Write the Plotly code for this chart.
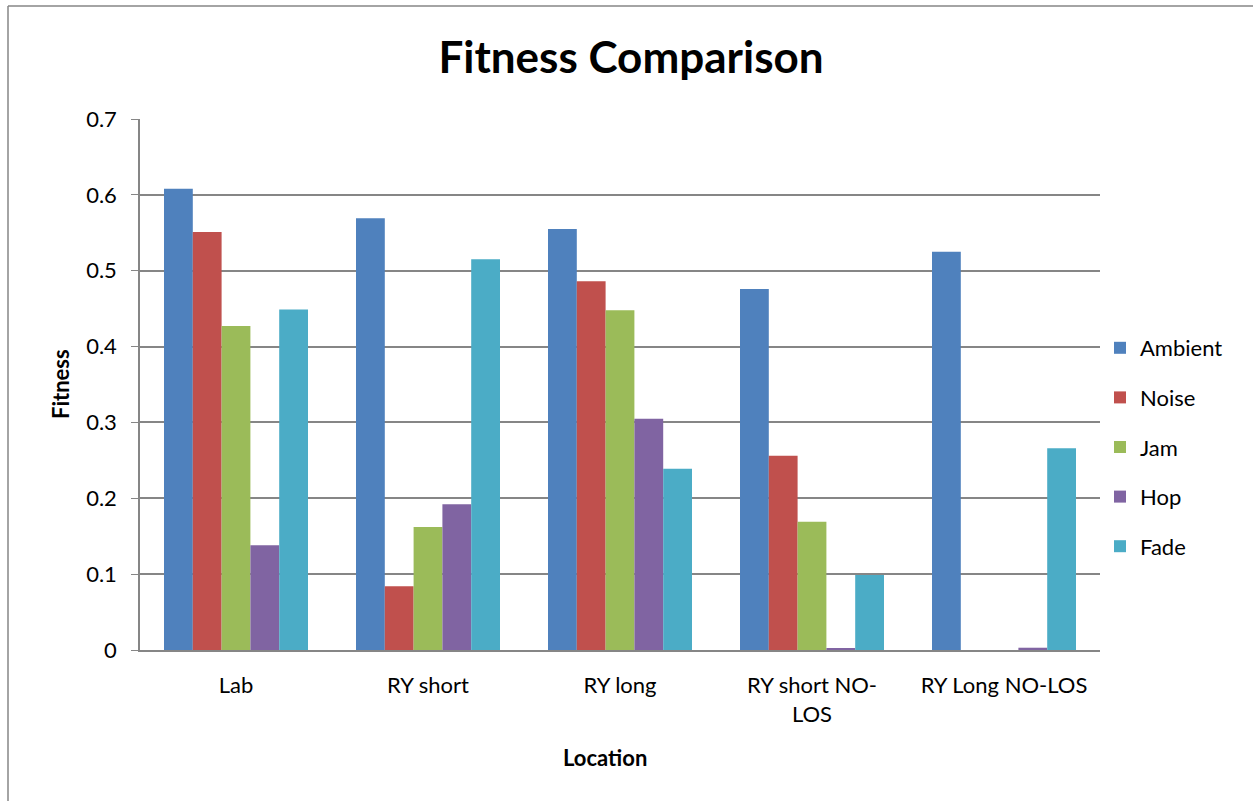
import plotly.graph_objects as go

categories = ["Lab", "RY short", "RY long", "RY short NO-<br>LOS", "RY Long NO-LOS"]
ambient = [0.608, 0.569, 0.555, 0.476, 0.525]
noise = [0.551, 0.084, 0.486, 0.256, 0.0]
jam = [0.427, 0.162, 0.448, 0.169, 0.0]
hop = [0.138, 0.192, 0.305, 0.002, 0.003]
fade = [0.449, 0.515, 0.239, 0.099, 0.266]

series = [("Ambient", ambient, "#4F81BD"), ("Noise", noise, "#C0504D"),
          ("Jam", jam, "#9BBB59"), ("Hop", hop, "#8064A2"), ("Fade", fade, "#4BACC6")]

FONT = "Lato"
W, H = 1253, 801
L, R, T, B = 140, 153, 119, 151
PW, PH = W - L - R, H - T - B

def px(xp):
    return (xp - L) / PW

def py(yp):
    return 1 - (yp - T) / PH

fig = go.Figure()
for name, vals, col in series:
    fig.add_trace(go.Bar(x=categories, y=vals, name=name, marker_color=col,
                         legendgroup=name, marker_line_width=0))

fig.update_layout(
    width=W, height=H,
    margin=dict(l=L, r=R, t=T, b=B),
    paper_bgcolor="white", plot_bgcolor="white",
    font=dict(family=FONT, size=22, color="black"),
    barmode="group", bargap=0.25, bargroupgap=0,
    title=dict(text="<b>Fitness Comparison</b>", x=631 / W, xanchor="center",
               y=1 - 58 / H, yanchor="middle", font=dict(size=44, family=FONT)),
    legend=dict(x=1.0, xanchor="left", y=py(447), yanchor="middle",
                font=dict(size=22, family=FONT), tracegroupgap=18,
                traceorder="grouped", itemwidth=30),
    showlegend=True,
)
fig.update_yaxes(range=[0, 0.7], tickvals=[0, 0.1, 0.2, 0.3, 0.4, 0.5, 0.6, 0.7],
                 ticktext=["0", "0.1", "0.2", "0.3", "0.4", "0.5", "0.6", "0.7"],
                 showgrid=True, gridcolor="#868686", gridwidth=1.5,
                 showline=True, linecolor="#868686", linewidth=1.5,
                 ticks="outside", ticklen=7, tickcolor="#868686",
                 ticklabelstandoff=10, tickfont=dict(size=22),
                 zeroline=False)
fig.update_xaxes(showline=True, linecolor="#868686", linewidth=1.5,
                 ticks="", tickfont=dict(size=22), ticklabelstandoff=15)

fig.add_annotation(text="<b>Location</b>", xref="paper", yref="paper",
                   x=px(605), y=py(757), xanchor="center", yanchor="middle",
                   showarrow=False, font=dict(size=22, family=FONT))
fig.add_annotation(text="<b>Fitness</b>", xref="paper", yref="paper",
                   x=px(60), y=py(384), xanchor="center", yanchor="middle",
                   textangle=-90, showarrow=False, font=dict(size=22, family=FONT))

fig.add_shape(type="line", xref="paper", yref="paper",
              x0=px(8), x1=1.2, y0=py(6), y1=py(6),
              line=dict(color="#868686", width=1.5))
fig.add_shape(type="line", xref="paper", yref="paper",
              x0=px(8), x1=px(8), y0=-0.4, y1=py(6),
              line=dict(color="#868686", width=1.5))

fig.write_html("out.html")
